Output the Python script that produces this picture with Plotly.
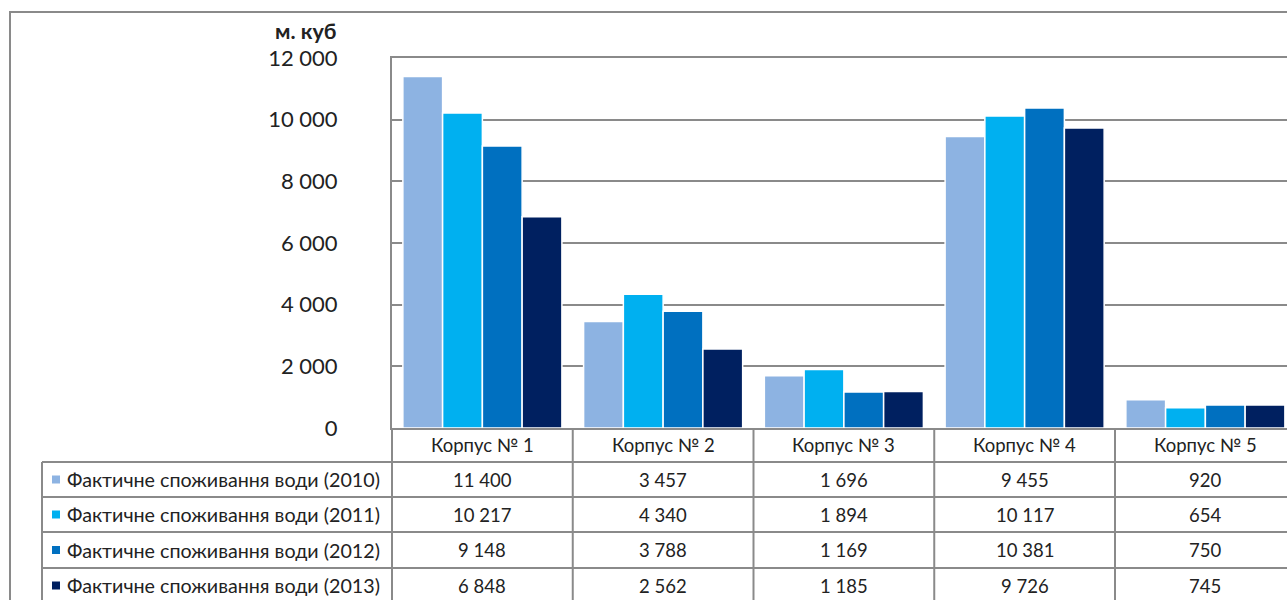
import plotly.graph_objects as go

# Water consumption per building, cubic metres
buildings = ["Корпус № 1", "Корпус № 2", "Корпус № 3", "Корпус № 4", "Корпус № 5"]
series_names = [
    "Фактичне споживання води (2010)",
    "Фактичне споживання води (2011)",
    "Фактичне споживання води (2012)",
    "Фактичне споживання води (2013)",
]
values_2010 = [11400, 3457, 1696, 9455, 920]
values_2011 = [10217, 4340, 1894, 10117, 654]
values_2012 = [9148, 3788, 1169, 10381, 750]
values_2013 = [6848, 2562, 1185, 9726, 745]
series_values = [values_2010, values_2011, values_2012, values_2013]
colors = ["#8DB3E2", "#00B0F0", "#0070C0", "#002060"]
y_ticks = [0, 2000, 4000, 6000, 8000, 10000, 12000]
unit_label = "м. куб"

W, H = 1287, 600
ML, MR, MT, MB = 392, 0, 58, 172
PW, PH = W - ML - MR, H - MT - MB
CAT_W = 180.75  # pixel width of one category column
FONT = "Lato, 'Noto Sans', sans-serif"
GRID = "#8a8a8a"
TXT = "#222222"


def px_x(px):
    return (px - ML) / PW


def px_y(py):
    return (H - MB - py) / PH


def fmt(v):
    return f"{v:,}".replace(",", " ")


fig = go.Figure()
x_idx = list(range(len(buildings)))
for name, vals, col in zip(series_names, series_values, colors):
    fig.add_trace(go.Bar(
        x=x_idx, y=vals, name=name,
        marker=dict(color=col, line=dict(color="white", width=1.5)),
        showlegend=False, hoverinfo="y",
    ))

shapes = []
annotations = []

# outer chart frame
shapes.append(dict(type="rect", xref="paper", yref="paper",
                   x0=px_x(10), x1=px_x(1310), y0=px_y(12), y1=px_y(620),
                   line=dict(color="#8a8a8a", width=2), layer="below"))

# data table grid
row_lines = [462, 497, 532, 568]
for ry in row_lines:
    shapes.append(dict(type="line", xref="paper", yref="paper",
                       x0=px_x(42), x1=px_x(1310), y0=px_y(ry), y1=px_y(ry),
                       line=dict(color=GRID, width=2)))
shapes.append(dict(type="line", xref="paper", yref="paper",
                   x0=px_x(42), x1=px_x(42), y0=px_y(462), y1=px_y(620),
                   line=dict(color=GRID, width=2)))
shapes.append(dict(type="line", xref="paper", yref="paper",
                   x0=0, x1=0, y0=px_y(428), y1=px_y(620),
                   line=dict(color=GRID, width=2)))
for i in range(len(buildings) - 1):
    shapes.append(dict(type="line", xref="x", yref="paper",
                       x0=i + 0.5, x1=i + 0.5, y0=px_y(428), y1=px_y(620),
                       line=dict(color=GRID, width=2)))

CELL_SIZE = 18.5
# header row: building names
for i, b in enumerate(buildings):
    annotations.append(dict(x=i, y=px_y(445), xref="x", yref="paper", text=b,
                            showarrow=False, font=dict(size=CELL_SIZE, color=TXT, family=FONT),
                            xanchor="center", yanchor="middle"))

row_centers = [479.5, 514.5, 550, 585.5]
for r, (name, vals, col) in enumerate(zip(series_names, series_values, colors)):
    cy = row_centers[r]
    # legend key
    shapes.append(dict(type="rect", xref="paper", yref="paper",
                       x0=px_x(52), x1=px_x(60), y0=px_y(cy - 4), y1=px_y(cy + 4),
                       line=dict(width=0), fillcolor=col))
    annotations.append(dict(x=px_x(65), y=px_y(cy), xref="paper", yref="paper", text=name,
                            showarrow=False, font=dict(size=19.7, color=TXT, family=FONT),
                            xanchor="left", yanchor="middle"))
    for i, v in enumerate(vals):
        annotations.append(dict(x=i, y=px_y(cy), xref="x", yref="paper", text=fmt(v),
                                showarrow=False, font=dict(size=CELL_SIZE, color=TXT, family=FONT),
                                xanchor="center", yanchor="middle"))

# axis unit label
annotations.append(dict(x=px_x(338), y=px_y(31), xref="paper", yref="paper",
                        text=f"<b>{unit_label}</b>", showarrow=False,
                        font=dict(size=21.5, color=TXT, family=FONT),
                        xanchor="right", yanchor="middle"))

fig.update_layout(
    width=W, height=H,
    margin=dict(l=ML, r=MR, t=MT, b=MB, pad=0),
    paper_bgcolor="white", plot_bgcolor="white",
    barmode="group", bargap=0.12, bargroupgap=0,
    shapes=shapes, annotations=annotations,
    font=dict(family=FONT, color=TXT),
    xaxis=dict(range=[-0.5, -0.5 + PW / CAT_W], showticklabels=False, showgrid=False,
               zeroline=False, showline=True, mirror=True, linecolor=GRID, linewidth=2,
               ticks="", fixedrange=True),
    yaxis=dict(range=[0, 12000], tickvals=y_ticks, ticktext=[fmt(v) for v in y_ticks],
               showgrid=True, gridcolor=GRID, gridwidth=2, zeroline=False,
               showline=True, linecolor=GRID, linewidth=2, ticks="",
               ticklabelstandoff=48, tickfont=dict(size=22, color=TXT, family=FONT),
               fixedrange=True),
)

fig.write_html("out.html")
